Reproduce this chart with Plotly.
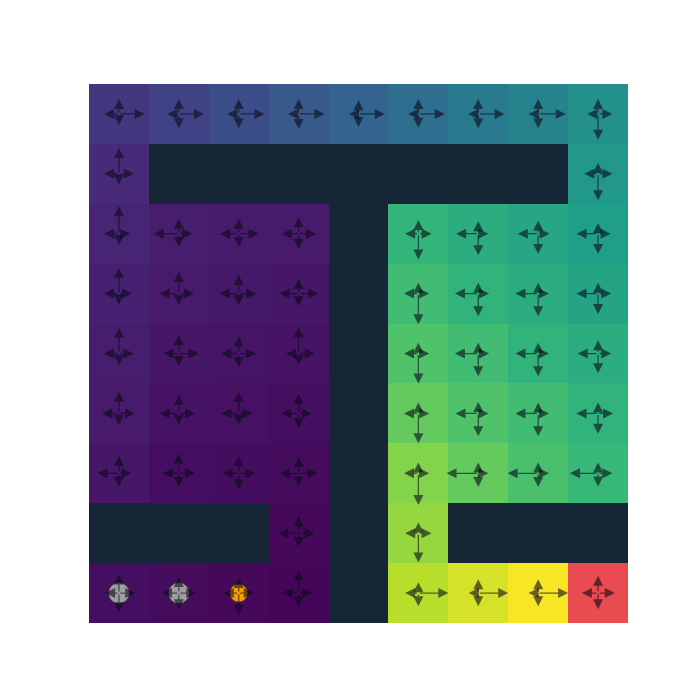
import plotly.graph_objects as go

W = None  # wall
# state values (row 0 = top), walls None, goal handled separately
VALUES = [
    [0.16, 0.20, 0.24, 0.28, 0.32, 0.36, 0.41, 0.45, 0.50],
    [0.12, W, W, W, W, W, W, W, 0.53],
    [0.10, 0.08, 0.07, 0.07, W, 0.66, 0.62, 0.59, 0.56],
    [0.09, 0.07, 0.065, 0.06, W, 0.69, 0.65, 0.62, 0.58],
    [0.08, 0.06, 0.055, 0.05, W, 0.72, 0.69, 0.65, 0.62],
    [0.07, 0.05, 0.045, 0.04, W, 0.76, 0.72, 0.69, 0.65],
    [0.06, 0.04, 0.035, 0.03, W, 0.81, 0.76, 0.71, 0.67],
    [W, W, W, 0.02, W, 0.84, W, W, W],
    [0.04, 0.03, 0.02, 0.015, W, 0.89, 0.94, 0.99, W],
]
GOAL = (8, 8)

# arrow lengths (fraction of a cell) for each action
UP = [
    [0.25, 0.25, 0.25, 0.25, 0.23, 0.25, 0.25, 0.25, 0.25],
    [0.43, W, W, W, W, W, W, W, 0.18],
    [0.46, 0.25, 0.25, 0.28, W, 0.23, 0.21, 0.22, 0.18],
    [0.43, 0.36, 0.31, 0.25, W, 0.18, 0.18, 0.18, 0.18],
    [0.43, 0.31, 0.29, 0.44, W, 0.18, 0.18, 0.18, 0.22],
    [0.36, 0.31, 0.36, 0.33, W, 0.18, 0.19, 0.18, 0.18],
    [0.29, 0.33, 0.29, 0.27, W, 0.18, 0.18, 0.18, 0.18],
    [W, W, W, 0.28, W, 0.18, W, W, W],
    [0.31, 0.27, 0.25, 0.38, W, 0.18, 0.23, 0.23, 0.29],
]
DOWN = [
    [0.19, 0.24, 0.24, 0.25, 0.22, 0.23, 0.24, 0.24, 0.43],
    [0.18, W, W, W, W, W, W, W, 0.44],
    [0.19, 0.22, 0.22, 0.25, W, 0.43, 0.36, 0.34, 0.34],
    [0.18, 0.19, 0.19, 0.21, W, 0.51, 0.38, 0.38, 0.34],
    [0.19, 0.21, 0.23, 0.19, W, 0.50, 0.38, 0.38, 0.33],
    [0.19, 0.19, 0.19, 0.25, W, 0.50, 0.38, 0.38, 0.34],
    [0.22, 0.23, 0.27, 0.22, W, 0.53, 0.23, 0.23, 0.22],
    [W, W, W, 0.23, W, 0.49, W, W, W],
    [0.32, 0.27, 0.36, 0.23, W, 0.22, 0.22, 0.22, 0.27],
]
LEFT = [
    [0.25, 0.19, 0.19, 0.18, 0.16, 0.17, 0.17, 0.16, 0.18],
    [0.25, W, W, W, W, W, W, W, 0.23],
    [0.25, 0.42, 0.31, 0.28, W, 0.22, 0.37, 0.34, 0.36],
    [0.25, 0.32, 0.32, 0.32, W, 0.24, 0.39, 0.38, 0.36],
    [0.25, 0.26, 0.29, 0.21, W, 0.24, 0.39, 0.38, 0.34],
    [0.28, 0.32, 0.29, 0.29, W, 0.24, 0.38, 0.38, 0.36],
    [0.36, 0.27, 0.27, 0.31, W, 0.24, 0.53, 0.51, 0.47],
    [W, W, W, 0.34, W, 0.22, W, W, W],
    [0.23, 0.28, 0.25, 0.27, W, 0.22, 0.16, 0.16, 0.27],
]
RIGHT = [
    [0.43, 0.42, 0.43, 0.43, 0.44, 0.44, 0.44, 0.46, 0.24],
    [0.25, W, W, W, W, W, W, W, 0.24],
    [0.19, 0.22, 0.33, 0.29, W, 0.22, 0.17, 0.19, 0.21],
    [0.22, 0.25, 0.29, 0.33, W, 0.18, 0.18, 0.18, 0.22],
    [0.24, 0.33, 0.29, 0.27, W, 0.18, 0.18, 0.18, 0.22],
    [0.27, 0.27, 0.23, 0.22, W, 0.18, 0.17, 0.18, 0.25],
    [0.21, 0.27, 0.28, 0.32, W, 0.18, 0.17, 0.18, 0.24],
    [W, W, W, 0.27, W, 0.22, W, W, W],
    [0.27, 0.29, 0.25, 0.23, W, 0.50, 0.50, 0.50, 0.28],
]

# agent markers: (row, col)
VISITED = [(8, 0), (8, 1)]
AGENT = [(8, 2)]

N = 9
WALL_COLOR = "#172636"
GOAL_COLOR = "#e84b50"

fig = go.Figure()

fig.add_trace(go.Heatmap(
    z=VALUES, x=list(range(N)), y=list(range(N)),
    colorscale="Viridis", zmin=0, zmax=1, showscale=False, hoverinfo="skip",
))
goal_z = [[1 if (r, c) == GOAL else None for c in range(N)] for r in range(N)]
fig.add_trace(go.Heatmap(
    z=goal_z, x=list(range(N)), y=list(range(N)),
    colorscale=[[0, GOAL_COLOR], [1, GOAL_COLOR]], showscale=False, hoverinfo="skip",
))

fig.add_trace(go.Scatter(
    x=[c for r, c in VISITED], y=[r for r, c in VISITED], mode="markers",
    marker=dict(size=21, color="rgba(165,165,165,0.95)", line=dict(color="rgba(60,60,60,0.8)", width=1)),
    hoverinfo="skip",
))
fig.add_trace(go.Scatter(
    x=[c for r, c in AGENT], y=[r for r, c in AGENT], mode="markers",
    marker=dict(size=18, color="rgba(255,165,0,0.95)", line=dict(color="rgba(90,60,0,0.8)", width=1)),
    hoverinfo="skip",
))

ARROW_COLOR = "rgba(10,10,25,0.6)"
anns = []
for r in range(N):
    for c in range(N):
        if UP[r][c] is None:
            continue
        for dx, dy in ((0, -UP[r][c]), (0, DOWN[r][c]), (-LEFT[r][c], 0), (RIGHT[r][c], 0)):
            anns.append(dict(
                x=c + dx, y=r + dy, ax=c, ay=r, xref="x", yref="y", axref="x", ayref="y",
                text="", showarrow=True, arrowhead=2, arrowsize=1.6, arrowwidth=1.25,
                arrowcolor=ARROW_COLOR, standoff=0, startstandoff=0,
            ))

fig.update_layout(
    width=700, height=700,
    margin=dict(l=89, r=72, t=84, b=77),
    paper_bgcolor="white", plot_bgcolor=WALL_COLOR,
    showlegend=False, annotations=anns,
    xaxis=dict(range=[-0.5, N - 0.5], visible=False, showgrid=False, zeroline=False),
    yaxis=dict(range=[N - 0.5, -0.5], visible=False, showgrid=False, zeroline=False),
)

fig.write_html("out.html")
